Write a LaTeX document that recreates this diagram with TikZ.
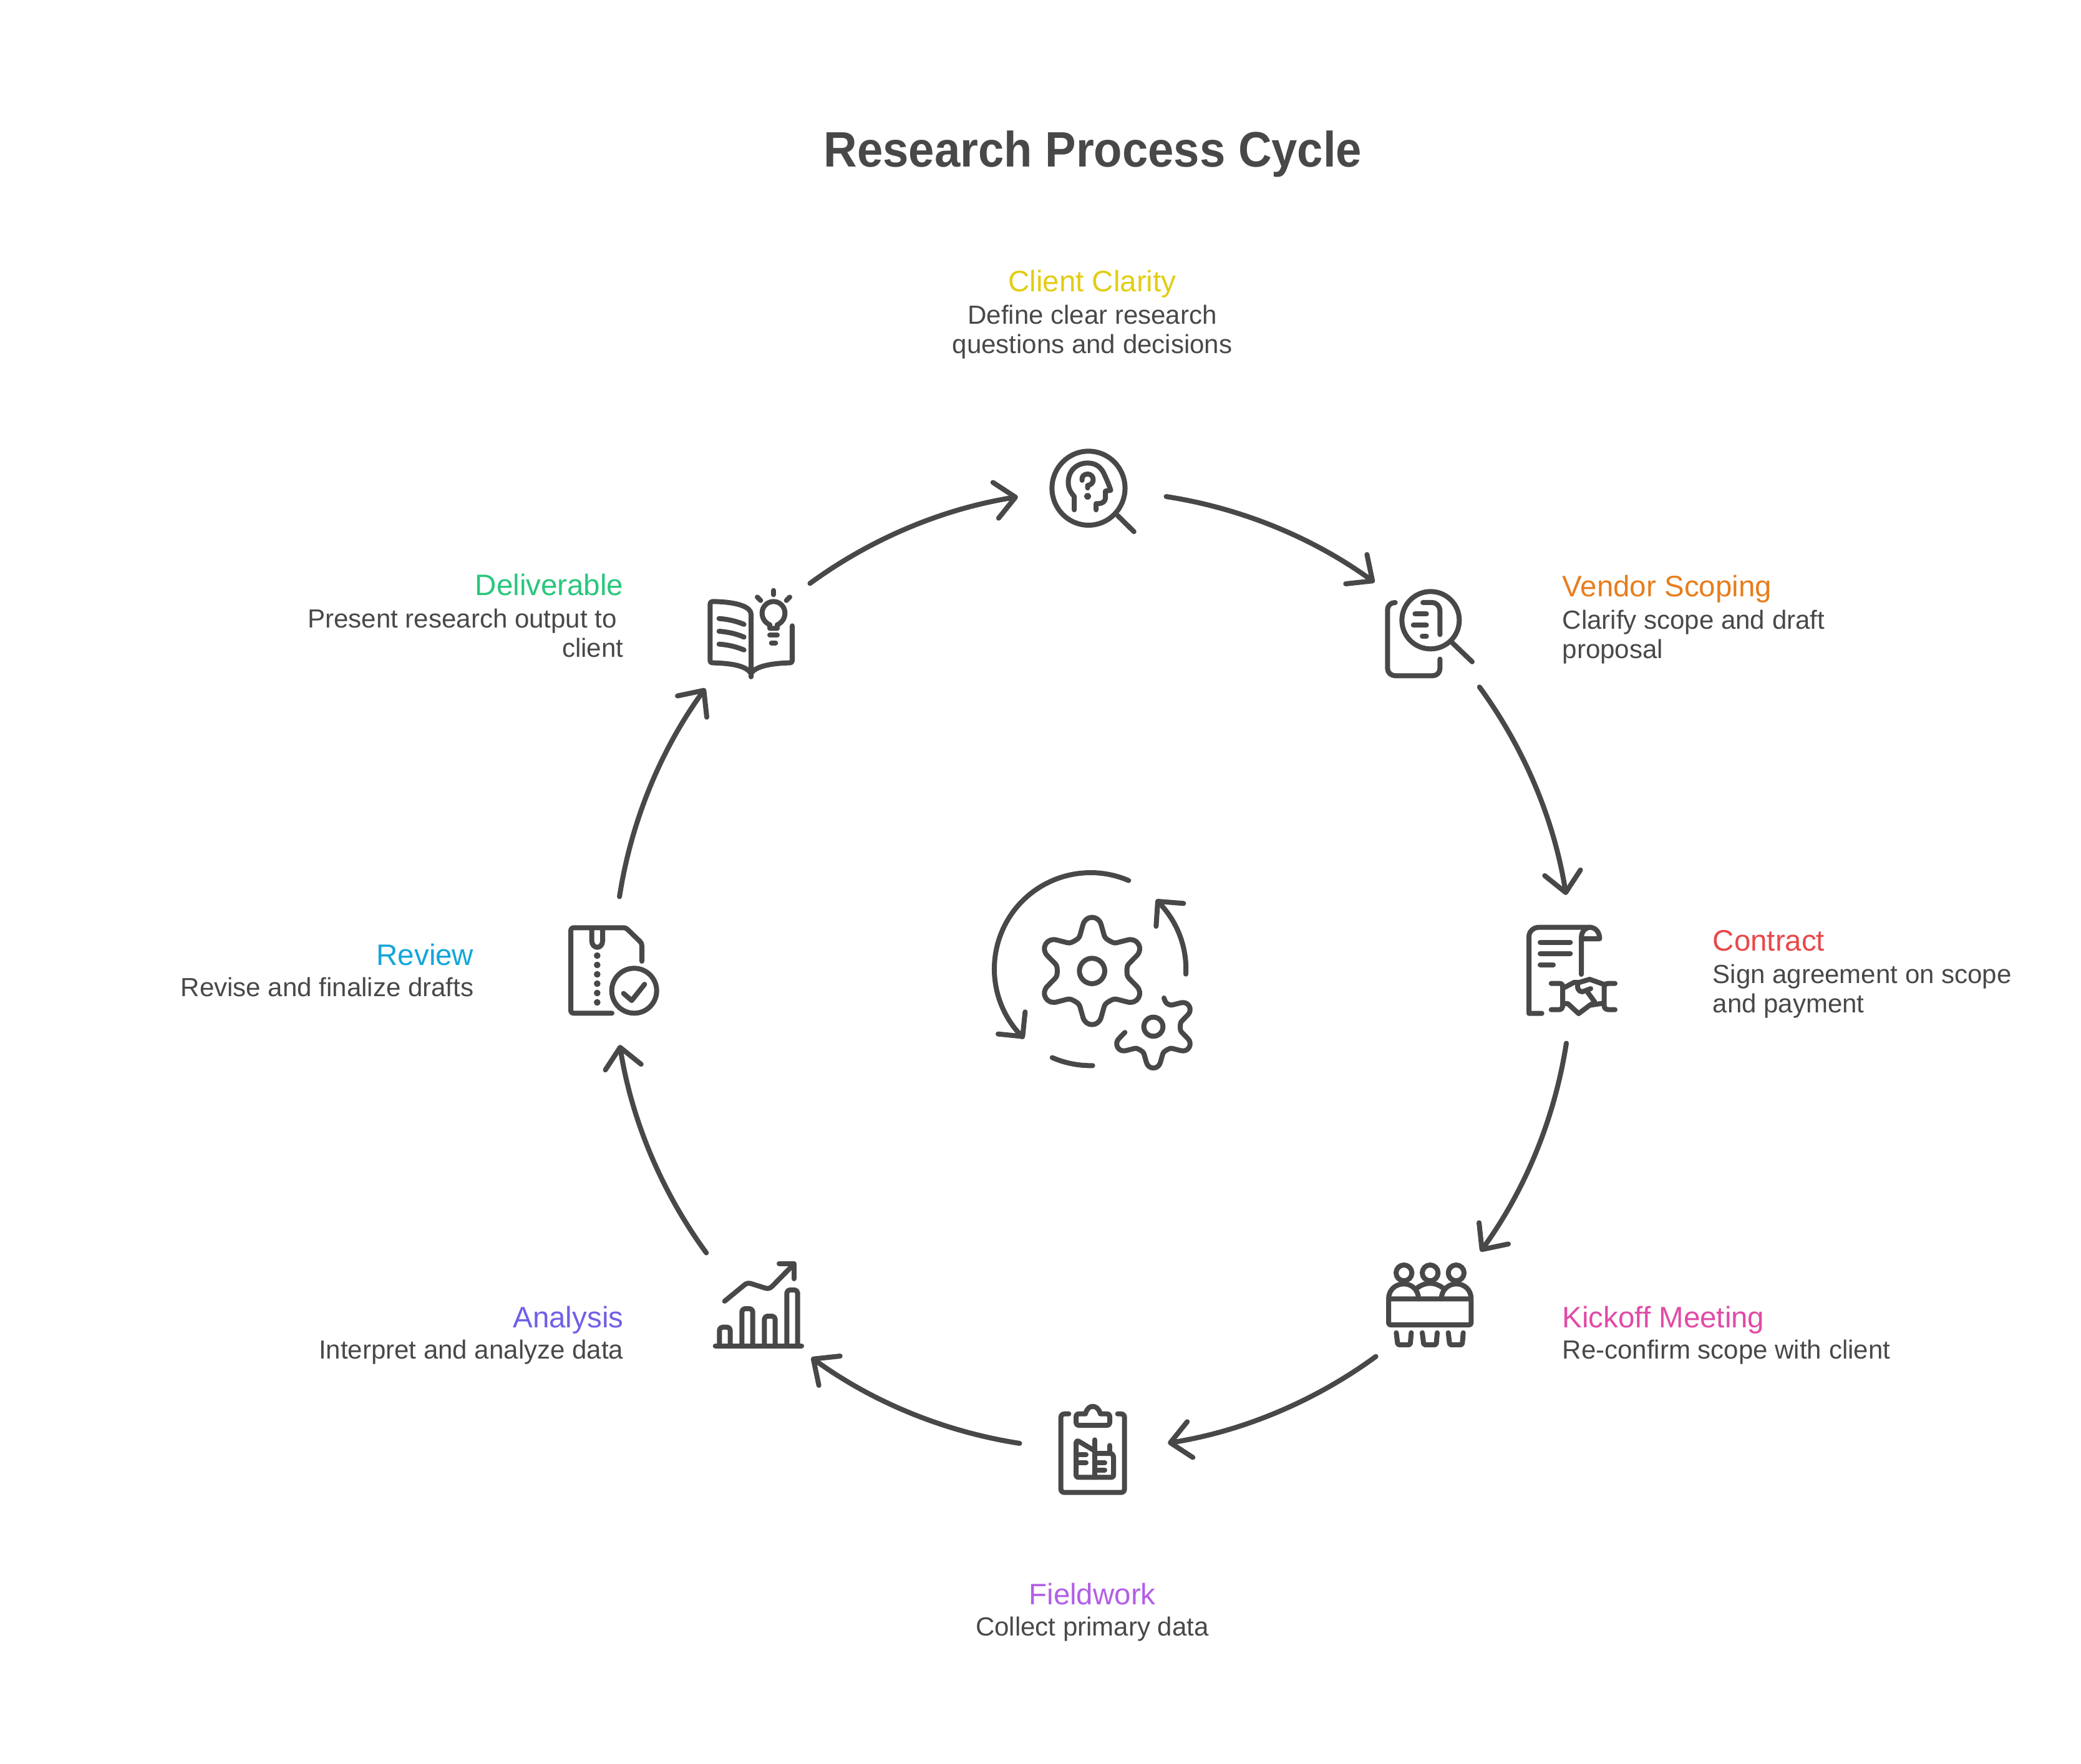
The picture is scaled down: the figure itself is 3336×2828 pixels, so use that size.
\documentclass[tikz,border=0pt]{standalone}
\usepackage{fontspec}
\setmainfont{Liberation Sans}
\newfontfamily\titlefont[FakeStretch=0.93]{Liberation Sans}
\usetikzlibrary{arrows.meta}
\definecolor{ink}{HTML}{484848}
\definecolor{clarityc}{HTML}{E2CD14}
\definecolor{scopingc}{HTML}{E67E1E}
\definecolor{contractc}{HTML}{E8484A}
\definecolor{kickoffc}{HTML}{E04BA6}
\definecolor{fieldc}{HTML}{B25FE6}
\definecolor{analysisc}{HTML}{6F60E8}
\definecolor{reviewc}{HTML}{13A6DA}
\definecolor{deliverc}{HTML}{28C77C}
\tikzset{
  glyph/.style={draw=ink,line width=0.08cm,line cap=round,line join=round},
  cyclearrow/.style={draw=ink,line width=0.08cm,line cap=round,
    -{Straight Barb[length=.32cm,width=.58cm,round]}},
  headl/.style={inner sep=0pt,font=\fontsize{13.5}{16}\selectfont},
  bodyl/.style={inner sep=0pt,text=ink,font=\fontsize{11.95}{13.6}\selectfont,
    execute at begin node={\rule{0pt}{10pt}}},
}
\begin{document}
\begin{tikzpicture}[x=0.01cm,y=-0.01cm]
  \useasboundingbox (0,0) rectangle (3336,2828);
  \node[inner sep=0pt,anchor=base,text=ink] (title) at (1752,268)
    {\titlefont\bfseries\fontsize{22.7}{26}\selectfont Research Process Cycle};

  % labels
  \foreach \nm/\xx/\yy/\dy/\col/\hd/\bd in {%
    clarity/1751/468/20/clarityc/Client Clarity/{Define clear research\\questions and decisions},
    fieldwork/1751/2572/15/fieldc/Fieldwork/{Collect primary data}} {
      \node[headl,anchor=base,text=\col] (\nm) at (\xx,\yy) {\hd};
      \node[bodyl,anchor=north,align=center] (\nm-text) at (\xx,\yy+\dy) {\bd};
  }
  \foreach \nm/\xx/\yy/\dy/\col/\hd/\bd in {%
    scoping/2504/957/20/scopingc/Vendor Scoping/{Clarify scope and draft\\proposal},
    contract/2745/1524/21/contractc/Contract/{Sign agreement on scope\\and payment},
    kickoff/2504/2128/15/kickoffc/Kickoff Meeting/{Re-confirm scope with client}} {
      \node[headl,anchor=base west,text=\col] (\nm) at (\xx,\yy) {\hd};
      \node[bodyl,anchor=north west,align=left] (\nm-text) at (\xx,\yy+\dy) {\bd};
  }
  \foreach \nm/\xx/\yy/\dy/\col/\hd/\bd in {%
    analysis/1000/2128/15/analysisc/Analysis/{Interpret and analyze data},
    review/760/1547/15/reviewc/Review/{Revise and finalize drafts},
    deliverable/1000/955/20/deliverc/Deliverable/{Present research output to\hspace*{3pt}\\client}} {
      \node[headl,anchor=base east,text=\col] (\nm) at (\xx,\yy) {\hd};
      \node[bodyl,anchor=north east,align=right] (\nm-text) at (\xx,\yy+\dy) {\bd};
  }

  % cycle arrows
  \coordinate (hub) at (1752,1555);
  \foreach \i in {0,1,...,7} {
    \coordinate (arcstart\i) at ([shift={(-81.2+45*\i:768)}]hub);
    \coordinate (arcend\i) at ([shift={(-54+45*\i:768)}]hub);
    \draw[cyclearrow] (arcstart\i) to[bend left=13.6,looseness=.864] (arcend\i);
  }

  % client clarity
  \begin{scope}[shift={(1640,680)},xscale=.357,yscale=.3333]
    \draw[glyph] (294,308) circle[x radius=164,y radius=178];
    \draw[glyph] (425,440) -- (498,517);
    \draw[glyph] (230,412) -- (230,348) .. controls (215,330) and (203,310) .. (203,280)
      .. controls (203,225) and (240,187) .. (290,187)
      .. controls (325,187) and (348,205) .. (362,235)
      .. controls (375,265) and (385,290) .. (394,318) -- (370,322) -- (370,355)
      .. controls (370,372) and (355,382) .. (340,382) -- (328,382) -- (328,412);
    \draw[glyph] (265,270) .. controls (262,250) and (275,240) .. (290,240)
      .. controls (305,240) and (315,252) .. (315,268)
      .. controls (315,282) and (305,292) .. (290,295) -- (290,307);
    \fill[ink] (290,347) circle[x radius=16,y radius=16];
  \end{scope}

  % vendor scoping
  \begin{scope}[shift={(2180,900)},scale=.3333]
    \draw[glyph] (340,283) circle[radius=138];
    \draw[glyph] (445,392) -- (540,483);
    \draw[glyph] (170,198) .. controls (150,198) and (133,210) .. (133,235) -- (133,515)
      .. controls (133,535) and (150,550) .. (170,550) -- (350,550)
      .. controls (370,550) and (385,535) .. (385,515) -- (385,470);
    \draw[glyph] (303,198) -- (345,198) .. controls (370,198) and (385,215) .. (385,240) -- (385,352);
    \foreach \xa/\ya in {265/253,257/307,300/360} {
      \draw[glyph] (\xa,\ya) -- (320,\ya);
    }
  \end{scope}

  % contract
  \begin{scope}[shift={(2420,1460)},scale=.3333]
    \draw[glyph] (155,494) -- (93,494) -- (93,125) .. controls (93,100) and (115,80) .. (140,80) -- (385,80)
      .. controls (415,80) and (433,105) .. (433,135) -- (345,135);
    \draw[glyph] (345,306) -- (345,130) .. controls (345,100) and (365,80) .. (390,80);
    \foreach \ya/\xb in {152/292,206/292,260/210} {
      \draw[glyph] (147,\ya) -- (\xb,\ya);
    }
    \draw[glyph] (200,350) -- (240,350) .. controls (250,350) and (255,355) .. (255,365) -- (255,462)
      .. controls (255,470) and (248,476) .. (235,476) -- (200,476);
    \draw[glyph] (507,350) -- (475,350) .. controls (460,350) and (455,358) .. (455,368) -- (455,458)
      .. controls (455,470) and (465,476) .. (478,476) -- (507,476);
    \draw[glyph] (258,372) -- (310,345) -- (335,345) -- (385,330) -- (455,355);
    \draw[glyph] (330,345) .. controls (322,370) and (330,390) .. (350,390) -- (390,375);
    \draw[glyph] (375,392) -- (410,440) -- (385,455) -- (332,495) -- (280,447) -- (262,447);
    \draw[glyph] (385,455) -- (450,445);
  \end{scope}

  % kickoff meeting
  \begin{scope}[shift={(2200,2000)},scale=.3333]
    \foreach \xa in {152,278,403} {
      \draw[glyph] (\xa,122) circle[radius=38];
    }
    \draw[glyph,rounded corners=.03cm] (78,247) rectangle (475,372);
    \draw[glyph] (78,247) .. controls (78,205) and (110,175) .. (152,175)
      .. controls (190,175) and (222,205) .. (222,247);
    \draw[glyph] (332,247) .. controls (332,205) and (365,175) .. (403,175)
      .. controls (445,175) and (475,205) .. (475,247);
    \draw[glyph] (215,195) .. controls (235,180) and (255,172) .. (278,172)
      .. controls (300,172) and (320,180) .. (340,195);
    \foreach \xa in {0,125,250} {
      \draw[glyph,rounded corners=.02cm] (115+\xa,410) -- (122+\xa,468) -- (182+\xa,468) -- (187+\xa,410);
    }
  \end{scope}

  % fieldwork
  \begin{scope}[shift={(1680,2240)},scale=.3333]
    \draw[glyph] (100,80) -- (80,80) .. controls (68,80) and (62,88) .. (62,98) -- (62,440)
      .. controls (62,452) and (68,458) .. (80,458) -- (350,458)
      .. controls (362,458) and (368,452) .. (368,440) -- (368,98)
      .. controls (368,88) and (362,80) .. (350,80) -- (335,80);
    \draw[glyph] (180,80) -- (150,80) .. controls (140,80) and (135,85) .. (135,95) -- (135,118)
      .. controls (135,130) and (140,135) .. (150,135) -- (282,135)
      .. controls (292,135) and (297,130) .. (297,118) -- (297,95)
      .. controls (297,85) and (292,80) .. (282,80) -- (252,80)
      .. controls (245,55) and (230,44) .. (215,44)
      .. controls (200,44) and (187,55) .. (180,80);
    \draw[glyph] (225,258) -- (148,212) .. controls (140,208) and (135,212) .. (135,220) -- (135,375)
      .. controls (135,382) and (138,385) .. (145,385) -- (305,385)
      .. controls (312,385) and (315,382) .. (315,375) -- (315,290)
      .. controls (315,280) and (310,272) .. (300,270) -- (228,270);
    \draw[glyph] (225,205) -- (225,385);
    \draw[glyph] (297,232) -- (297,270);
    \foreach \xa/\ya in {150/277,150/315,240/315,240/350} {
      \draw[glyph] (\xa,\ya) -- (\xa+33,\ya);
    }
  \end{scope}

  % analysis
  \begin{scope}[shift={(1130,2010)},scale=.3333]
    \draw[glyph] (50,443) -- (465,443);
    \foreach \xa/\ya in {70/353,178/264,286/300,394/174} {
      \draw[glyph,rounded corners=.05cm] (\xa,443) -- (\xa,\ya) -- (\xa+52,\ya) -- (\xa+52,443);
    }
    \draw[glyph] (95,228) -- (190,150) .. controls (200,142) and (208,140) .. (220,143) -- (290,165)
      .. controls (305,170) and (315,165) .. (325,155) -- (428,50);
    \draw[glyph] (357,47) -- (428,47) -- (428,120);
  \end{scope}

  % review
  \begin{scope}[shift={(900,1470)},scale=.3333]
    \draw[glyph] (243,463) -- (60,463) .. controls (50,463) and (45,458) .. (45,448) -- (45,68)
      .. controls (45,58) and (50,52) .. (60,52) -- (300,52) .. controls (308,52) and (312,55) .. (318,60)
      -- (377,117) .. controls (384,124) and (387,130) .. (387,140) -- (387,213);
    \draw[glyph] (146,60) -- (146,115) .. controls (146,135) and (160,146) .. (172,146)
      .. controls (185,146) and (198,135) .. (198,115) -- (198,60);
    \foreach \ya in {186,231,276,321,366,411} {
      \fill[ink] (172,\ya) circle[radius=16];
    }
    \draw[glyph] (350,355) circle[radius=108];
    \draw[glyph] (299,368) -- (338,402) -- (400,324);
  \end{scope}

  % deliverable
  \begin{scope}[shift={(1120,930)},scale=.3333]
    \draw[glyph] (252,465) -- (252,165) .. controls (252,130) and (190,105) .. (70,103)
      .. controls (60,103) and (55,108) .. (55,118) -- (55,385)
      .. controls (55,395) and (60,398) .. (70,398)
      .. controls (150,400) and (230,410) .. (252,450)
      .. controls (270,415) and (350,400) .. (435,398)
      .. controls (445,398) and (450,395) .. (450,385) -- (450,220);
    \foreach \ya in {0,61,123} {
      \draw[glyph] (98,185+\ya) .. controls (140,188+\ya) and (180,197+\ya) .. (218,213+\ya);
    }
    \draw[glyph] (342,232) -- (342,215) .. controls (320,205) and (305,185) .. (305,158)
      .. controls (305,128) and (330,103) .. (360,103)
      .. controls (390,103) and (415,128) .. (415,158)
      .. controls (415,185) and (400,205) .. (378,215) -- (378,232) -- cycle;
    \draw[glyph] (342,265) -- (378,265);
    \draw[glyph] (350,302) -- (370,302);
    \draw[glyph] (360,50) -- (360,70);
    \draw[glyph] (282,82) -- (298,98);
    \draw[glyph] (438,82) -- (422,98);
  \end{scope}

  % centre
  \begin{scope}[shift={(1580,1380)},scale=.3333]
    \draw[glyph] (688,95) arc[start angle=-66.7,end angle=-224.8,radius=463];
    \draw[glyph] (60,833) -- (178,845) -- (190,727);
    \draw[glyph] (963,545) arc[start angle=3,end angle=-45,radius=458];
    \draw[glyph] (952,205) -- (828,195) -- (820,315);
    \draw[glyph] (515,985) arc[start angle=88.8,end angle=113.4,radius=465];
    \foreach \a in {0,60,...,300} {
      \draw[glyph,shift={(512,530)},rotate=\a] (-84,-145) .. controls (-72,-152) and (-62,-158) .. (-58,-172)
        -- (-44,-222) .. controls (-38,-245) and (-20,-258) .. (0,-258)
        .. controls (20,-258) and (38,-245) .. (44,-222) -- (58,-172)
        .. controls (62,-158) and (72,-152) .. (84,-145);
    }
    \draw[glyph] (512,530) circle[radius=61];
    \draw[glyph] (807,798) circle[radius=46];
    \foreach \a in {-60,-120,180} {
      \draw[glyph,shift={(807,798)},rotate=\a,scale=.77] (-84,-145) .. controls (-72,-152) and (-62,-158) .. (-58,-172)
        -- (-44,-222) .. controls (-38,-245) and (-20,-258) .. (0,-258)
        .. controls (20,-258) and (38,-245) .. (44,-222) -- (58,-172)
        .. controls (62,-158) and (72,-152) .. (84,-145);
    }
    \draw[glyph,shift={(807,798)},rotate=120,scale=.77] (-84,-145) .. controls (-72,-152) and (-62,-158) .. (-58,-172)
      -- (-44,-222) .. controls (-38,-245) and (-20,-258) .. (0,-258)
      .. controls (20,-258) and (38,-245) .. (44,-222) -- (58,-172);
    \draw[glyph] (858,660) .. controls (862,675) and (868,683) .. (872,686);
  \end{scope}
\end{tikzpicture}
\end{document}
